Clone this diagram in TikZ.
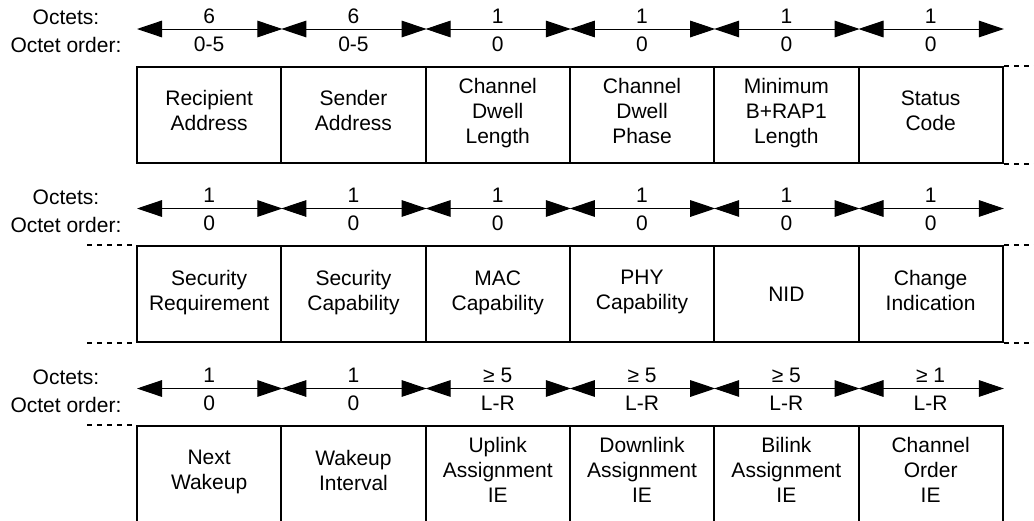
\documentclass[tikz,border=0pt]{standalone}
\usepackage{fontspec}
\setmainfont{Liberation Sans}
\usetikzlibrary{arrows.meta}

\begin{document}
\begin{tikzpicture}[x=0.5pt,y=-0.5pt,node distance=72.15pt]
      \tikzstyle{every node}=[font=\fontsize{10.5}{12.5}\selectfont]
      \tikzstyle{fieldbox}=[draw,line width=1pt,minimum width=72.15pt,minimum height=48pt,inner sep=0pt,align=center,
                            execute at begin node={\rule{0pt}{10.75pt}},execute at end node=\strut]
      \tikzstyle{octspan}=[line width=0.5pt,shorten <=0.5pt,{Triangle[length=12.5pt,width=8.3pt]}-{Triangle[length=12.5pt,width=8.3pt]}]
      \tikzstyle{stub}=[line width=1pt,dash pattern=on 2.5pt off 2.5pt]
      \clip (0,0) rectangle (1034,520);

      % first row
      \node (oct1) at (66,17) {Octets:};
      \node (ord1) at (66,45) {Octet order:};
      \node[fieldbox] (recip)                     at (209.15,114.5) {Recipient\\Address};
      \node[fieldbox] (sender)  [right of=recip]   {Sender\\Address};
      \node[fieldbox] (dwlen)   [right of=sender]  {Channel\\Dwell\\Length};
      \node[fieldbox] (dwphase) [right of=dwlen]   {Channel\\Dwell\\Phase};
      \node[fieldbox] (minbrap) [right of=dwphase] {Minimum\\B+RAP1\\Length};
      \node[fieldbox] (status)  [right of=minbrap] {Status\\Code};

      % second row
      \node (oct2) at (66,197) {Octets:};
      \node (ord2) at (66,225) {Octet order:};
      \node[fieldbox] (secreq)                    at (209.15,294) {Security\\Requirement};
      \node[fieldbox] (seccap)  [right of=secreq]  {Security\\Capability};
      \node[fieldbox] (maccap)  [right of=seccap]  {MAC\\Capability};
      \node[fieldbox] (phycap)  [right of=maccap]  {PHY\\Capability};
      \node[fieldbox] (nid)     [right of=phycap]  {NID};
      \node[fieldbox] (change)  [right of=nid]     {Change\\Indication};

      % third row
      \node (oct3) at (66,377) {Octets:};
      \node (ord3) at (66,405) {Octet order:};
      \node[fieldbox] (nextwake)                  at (209.15,474) {Next\\Wakeup};
      \node[fieldbox] (wakeint) [right of=nextwake] {Wakeup\\Interval};
      \node[fieldbox] (uplink)  [right of=wakeint]  {Uplink\\Assignment\\IE};
      \node[fieldbox] (downlink)[right of=uplink]   {Downlink\\Assignment\\IE};
      \node[fieldbox] (bilink)  [right of=downlink] {Bilink\\Assignment\\IE};
      \node[fieldbox] (chorder) [right of=bilink]   {Channel\\Order\\IE};

      % octet spans
      \foreach \f/\n/\o in {recip/6/0-5, sender/6/0-5, dwlen/1/0, dwphase/1/0, minbrap/1/0, status/1/0,
                            secreq/1/0, seccap/1/0, maccap/1/0, phycap/1/0, nid/1/0, change/1/0,
                            nextwake/1/0, wakeint/1/0, uplink/≥ 5/L-R, downlink/≥ 5/L-R, bilink/≥ 5/L-R, chorder/≥ 1/L-R}
        \draw[octspan] ([yshift=18.25pt]\f.north west) -- node[yshift=6.5pt] {\n} node[yshift=-7.5pt] {\o} ([yshift=18.25pt]\f.north east);

      % continuation marks
      \draw[stub] (status.north east) -- ++(40,0);
      \draw[stub] (status.south east) -- ++(40,0);
      \draw[stub] ([xshift=-24.5pt]secreq.north west) -- (secreq.north west);
      \draw[stub] ([xshift=-24.5pt]secreq.south west) -- (secreq.south west);
      \draw[stub] (change.north east) -- ++(40,0);
      \draw[stub] (change.south east) -- ++(40,0);
      \draw[stub] ([xshift=-24.5pt]nextwake.north west) -- (nextwake.north west);
\end{tikzpicture}
\end{document}
